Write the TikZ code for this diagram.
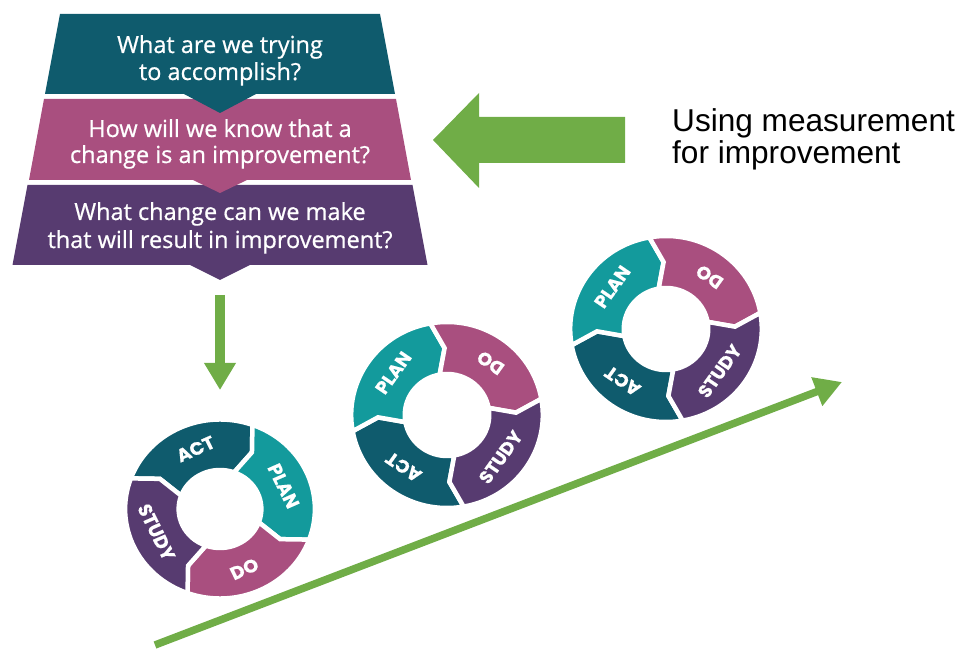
\documentclass[tikz,border=0pt]{standalone}
\usepackage{fontspec}
\setmainfont{Open Sans}
\newfontfamily\bandfont[FakeBold=0.7]{Open Sans}
\newfontfamily\notefont{Liberation Sans}
\newfontfamily\cyclefont[FakeBold=0.6]{Poppins}
\usetikzlibrary{arrows.meta}

\definecolor{qiTeal}{HTML}{0F5B6D}
\definecolor{qiPlan}{HTML}{139A9C}
\definecolor{qiPink}{HTML}{A94F7F}
\definecolor{qiPurple}{HTML}{573B70}
\definecolor{qiGreen}{HTML}{70AD47}

\tikzset{
  band text/.style={text=white, font=\bandfont\fontsize{23.5}{27}\selectfont, anchor=base, inner sep=0pt},
  note text/.style={text=black, font=\notefont\fontsize{31.6}{36}\selectfont, anchor=base west, inner sep=0pt},
  seg text/.style={text=white, font=\cyclefont\bfseries\fontsize{18}{20}\selectfont, transform shape, inner sep=0pt},
  segment/.style={fill=#1, draw=white, line width=4.5pt, line join=miter},
  green arrow/.style={draw=qiGreen, line width=#1},
}

% one arrow-shaped quarter of a PDSA ring:
% name, colour, start angle, end angle, label, label rotation
\newcommand\pdsaseg[6]{%
  \pgfmathsetmacro\sa{#3}\pgfmathsetmacro\sb{#4}%
  \pgfmathsetmacro\sbt{#4-8}\pgfmathsetmacro\sat{#3-8}%
  \pgfmathsetmacro\smid{(#3+#4)/2-4}%
  \filldraw[segment=#2] (\sa:\Ro) arc[start angle=\sa, end angle=\sb, radius=\Ro]
    -- (\sbt:\Rm) -- (\sb:\Ri) arc[start angle=\sb, end angle=\sa, radius=\Ri]
    -- (\sat:\Rm) -- cycle;
  \node[seg text, rotate=#6] (#1) at (\smid:\Rm) {#5};
}

% full ring: prefix, centre, rotation, outer radius, inner radius, xscale
\newcommand\pdsacycle[6]{%
  \def\Ro{#4pt}\def\Ri{#5pt}%
  \pgfmathsetmacro\Rmval{(#4+#5)/2}\edef\Rm{\Rmval pt}%
  \begin{scope}[shift={#2}, xscale=#6, rotate=#3]
    \pdsaseg{#1act}{qiTeal}{160}{70}{ACT}{25}
    \pdsaseg{#1plan}{qiPlan}{70}{-20}{PLAN}{-65}
    \pdsaseg{#1do}{qiPink}{-20}{-110}{DO}{25}
    \pdsaseg{#1study}{qiPurple}{-110}{-200}{STUDY}{-65}
  \end{scope}
}

\begin{document}
\begin{tikzpicture}[x=1pt, y=1pt]
  \useasboundingbox (0,0) rectangle (963,648);

  % funnel of the three questions, drawn bottom band first
  \fill[qiPurple] (27.5,463) -- (412.5,463) -- (427.5,383) -- (250,383)
    -- (220,368) -- (190,383) -- (12.5,383) -- cycle;
  \fill[qiPink] (44,549) -- (396,549) -- (411,468) -- (247,468)
    -- (220,455) -- (193,468) -- (29,468) -- cycle;
  \fill[qiTeal] (60,634) -- (380,634) -- (395,554) -- (256,554)
    -- (220,535) -- (184,554) -- (45,554) -- cycle;

  \node[band text] (q1a) at (220,595) {What are we trying};
  \node[band text] (q1b) at (220,568) {to accomplish?};
  \node[band text] (q2a) at (220,511) {How will we know that a};
  \node[band text] (q2b) at (220,485) {change is an improvement?};
  \node[band text] (q3a) at (220,428) {What change can we make};
  \node[band text] (q3b) at (220,400) {that will result in improvement?};

  % measurement arrow pointing at the middle question
  \coordinate (mtip) at (433,508);
  \fill[qiGreen] (mtip) -- ++(46,47) -- ++(0,-24) -- ++(146,0) -- ++(0,-46)
    -- ++(-146,0) -- ++(0,-25) -- cycle;
  \node[note text] (note1) at (672,516) {Using measurement};
  \node[note text] (note2) at (672,484) {for improvement};

  % from the questions into the first cycle
  \coordinate (dstart) at (220,353);
  \coordinate (dend) at (220,258);
  \draw[green arrow=10pt, -{Triangle[length=27pt, width=30pt]}] (dstart) -- (dend);

  % rising trend
  \coordinate (tstart) at (155,3);
  \coordinate (tend) at (842,266);
  \draw[green arrow=7.5pt, -{Triangle[length=27pt, width=29pt]}] (tstart) -- (tend);

  % PDSA cycles
  \pdsacycle{ca}{(220,139)}{0}{89.5}{39}{1.06}
  \pdsacycle{cb}{(447,233)}{120}{93}{41}{1.03}
  \pdsacycle{cc}{(666,319)}{120}{93}{41}{1.03}
\end{tikzpicture}
\end{document}
